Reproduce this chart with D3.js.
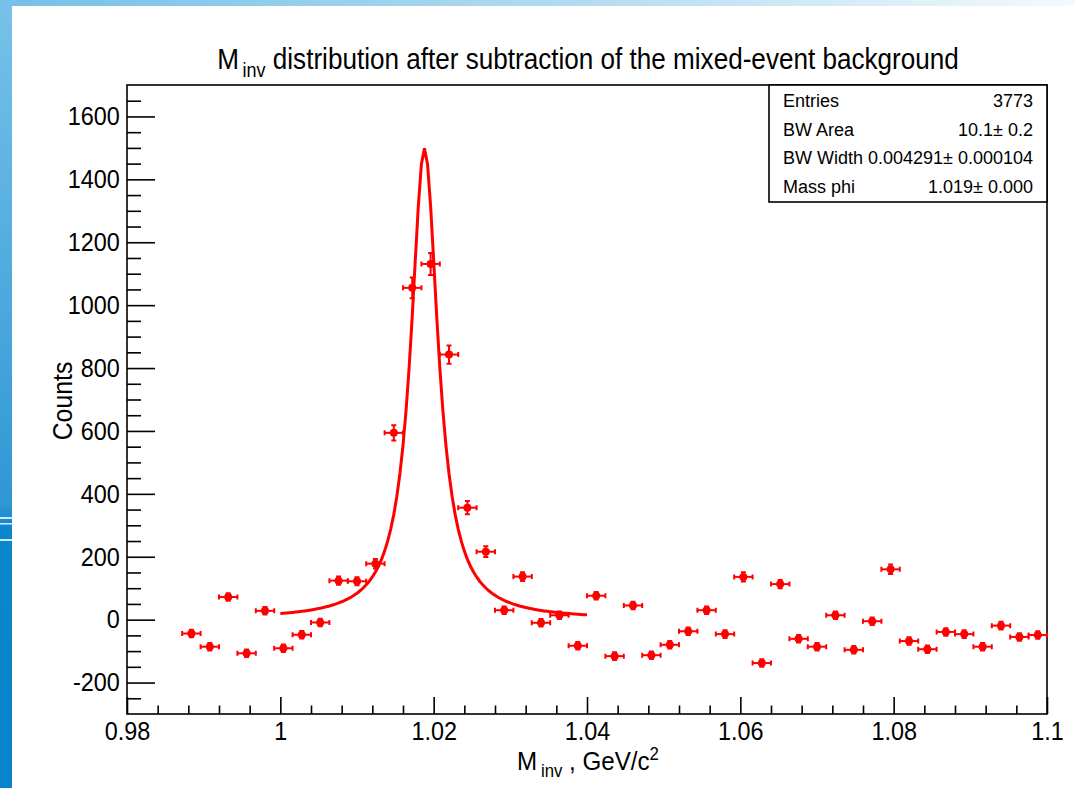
<!DOCTYPE html>
<html>
<head>
<meta charset="utf-8">
<script src="https://cdn.jsdelivr.net/npm/d3@7"></script>
<style>
  body { margin: 0; background: #fff; }
  svg { display: block; font-family: "Liberation Sans", Arial, Helvetica, sans-serif; }
</style>
</head>
<body>
<svg id="chart"></svg>
<script>
// Invariant-mass spectrum after mixed-event background subtraction, with Breit-Wigner fit

// bin centres of the filled bins (bin width 0.0024 GeV/c^2, bins below KK threshold are empty)
const binCenters = [
  0.9884, 0.9908, 0.9932, 0.9956, 0.9980, 1.0004, 1.0028, 1.0052, 1.0076, 1.0100,
  1.0124, 1.0148, 1.0172, 1.0196, 1.0220, 1.0244, 1.0268, 1.0292, 1.0316, 1.0340,
  1.0364, 1.0388, 1.0412, 1.0436, 1.0460, 1.0484, 1.0508, 1.0532, 1.0556, 1.0580,
  1.0604, 1.0628, 1.0652, 1.0676, 1.0700, 1.0724, 1.0748, 1.0772, 1.0796, 1.0820,
  1.0844, 1.0868, 1.0892, 1.0916, 1.0940, 1.0964, 1.0988
];
const counts = [
  -44, -86, 72, -107, 28, -91, -48, -9, 124, 122,
  178, 594, 1055, 1131, 843, 356, 216, 30, 137, -10,
  14, -83, 76, -116, 45, -113, -80, -37, 30, -46,
  136, -138, 113, -61, -86, 14, -96, -5, 160, -68,
  -94, -39, -46, -86, -19, -55, -49
];
const countErrors = [
  12, 12, 12, 12, 12, 12, 12, 12, 13, 13,
  15, 24, 33, 35, 29, 21, 17, 12, 14, 12,
  12, 12, 12, 12, 12, 12, 12, 12, 12, 12,
  15, 12, 13, 12, 12, 12, 12, 12, 15, 12,
  12, 12, 12, 12, 12, 12, 12
];
const halfBinWidth = 0.0012;

// fit parameters (stats box shows mass rounded to 1.019)
const bwArea = 10.1;
const bwWidth = 0.004291;
const bwMass = 1.0188;
const fitRange = [1.0, 1.04];
const fitNpx = 100;

const xMajorTicks = [0.98, 1.0, 1.02, 1.04, 1.06, 1.08, 1.1];
const xTickLabels = ["0.98", "1", "1.02", "1.04", "1.06", "1.08", "1.1"];
const yMajorTicks = [-200, 0, 200, 400, 600, 800, 1000, 1200, 1400, 1600];

const statsLabels = ["Entries", "BW Area", "BW Width", "Mass phi"];
const statsValues = ["3773", "10.1\u00b1 0.2", "0.004291\u00b1 0.000104", "1.019\u00b1 0.000"];

const W = 1075, H = 788;
const frame = { left: 127, right: 1047, top: 85, bottom: 714 };
const red = "#ff0000";

const svg = d3.select("#chart").attr("width", W).attr("height", H);

// slide background: blue strip on the left, fading band on top
const defs = svg.append("defs");
const topGrad = defs.append("linearGradient").attr("id", "topGrad");
topGrad.append("stop").attr("offset", "0%").attr("stop-color", "#74c0e8");
topGrad.append("stop").attr("offset", "55%").attr("stop-color", "#b4dcf1");
topGrad.append("stop").attr("offset", "100%").attr("stop-color", "#f4fafd");
const leftGrad = defs.append("linearGradient").attr("id", "leftGrad")
    .attr("x1", 0).attr("y1", 0).attr("x2", 0).attr("y2", 1);
leftGrad.append("stop").attr("offset", "0%").attr("stop-color", "#78c2ea");
leftGrad.append("stop").attr("offset", "64%").attr("stop-color", "#2f97d4");
leftGrad.append("stop").attr("offset", "67%").attr("stop-color", "#0b86cc");
leftGrad.append("stop").attr("offset", "100%").attr("stop-color", "#0784cc");

svg.append("rect").attr("width", W).attr("height", 6).attr("fill", "url(#topGrad)");
svg.append("rect").attr("width", 12).attr("height", H).attr("fill", "url(#leftGrad)");
[517, 523, 539].forEach((yy, i) => {
  svg.append("rect").attr("x", 0).attr("y", yy).attr("width", 12).attr("height", i === 1 ? 1.5 : 2)
      .attr("fill", "#e8f5fc").attr("opacity", 0.9);
});

const x = d3.scaleLinear().domain([0.98, 1.1]).range([frame.left, frame.right]);
const y = d3.scaleLinear().domain([-300, 1700]).range([frame.bottom, frame.top]);

// frame
svg.append("rect")
    .attr("x", frame.left).attr("y", frame.top)
    .attr("width", frame.right - frame.left).attr("height", frame.bottom - frame.top)
    .attr("fill", "#fff").attr("stroke", "#000").attr("stroke-width", 1.6);

// axes, ticks pointing into the frame
const yMinor = d3.range(-300, 1701, 50).filter(v => v % 200 !== 0 && v > -300 && v < 1700);
const xMinor = d3.range(1, 30).filter(i => i % 5 !== 0).map(i => 0.98 + i * 0.004);

function styleAxis(g) {
  g.select(".domain").remove();
  g.selectAll(".tick line").attr("stroke", "#000").attr("stroke-width", 1.6);
  g.selectAll("text").attr("fill", "#000").attr("font-size", 26)
      .attr("font-family", "'Liberation Sans', Arial, sans-serif")
      .attr("transform", "scale(0.9,1)");
}

svg.append("g").attr("transform", `translate(${frame.left},0)`)
    .call(d3.axisLeft(y).tickValues(yMinor).tickSize(-14).tickFormat(""))
    .call(styleAxis);
svg.append("g").attr("transform", `translate(${frame.left},0)`)
    .call(d3.axisLeft(y).tickValues(yMajorTicks).tickSize(-28).tickPadding(8).tickFormat(d => String(d)))
    .call(styleAxis);

svg.append("g").attr("transform", `translate(0,${frame.bottom})`)
    .call(d3.axisBottom(x).tickValues(xMinor).tickSize(-8.5).tickFormat(""))
    .call(styleAxis);
svg.append("g").attr("transform", `translate(0,${frame.bottom})`)
    .call(d3.axisBottom(x).tickValues(xMajorTicks).tickSize(-17).tickPadding(8)
        .tickFormat((d, i) => xTickLabels[i]))
    .call(styleAxis);

// fit curve
const fitX = d3.range(fitNpx + 1).map(i => fitRange[0] + i * (fitRange[1] - fitRange[0]) / fitNpx);
const breitWigner = m => bwArea * (bwWidth / (2 * Math.PI)) /
    ((m - bwMass) * (m - bwMass) + bwWidth * bwWidth / 4);
const line = d3.line().x(d => x(d)).y(d => y(breitWigner(d)));
svg.append("path")
    .datum(fitX)
    .attr("d", line)
    .attr("fill", "none")
    .attr("stroke", red)
    .attr("stroke-width", 3)
    .attr("stroke-linejoin", "miter");

// data points with error bars
const pts = binCenters.map((c, i) => ({ c, v: counts[i], e: countErrors[i] }));
const cap = 2.5;
const pg = svg.append("g").attr("stroke", red).attr("stroke-width", 2);
const point = pg.selectAll("g.pt").data(pts).enter().append("g").attr("class", "pt");
point.append("line")
    .attr("x1", d => x(d.c - halfBinWidth)).attr("x2", d => x(d.c + halfBinWidth))
    .attr("y1", d => y(d.v)).attr("y2", d => y(d.v));
point.append("line")
    .attr("x1", d => x(d.c)).attr("x2", d => x(d.c))
    .attr("y1", d => y(d.v - d.e)).attr("y2", d => y(d.v + d.e));
point.append("path")
    .attr("d", d => {
      const xl = x(d.c - halfBinWidth), xr = x(d.c + halfBinWidth), xc = x(d.c);
      const yc = y(d.v), yt = y(d.v + d.e), yb = y(d.v - d.e);
      return `M${xl},${yc - cap}V${yc + cap}M${xr},${yc - cap}V${yc + cap}` +
             `M${xc - cap},${yt}H${xc + cap}M${xc - cap},${yb}H${xc + cap}`;
    })
    .attr("fill", "none");
point.append("circle")
    .attr("cx", d => x(d.c)).attr("cy", d => y(d.v)).attr("r", 4)
    .attr("fill", red).attr("stroke", "none");

// text helper: ROOT's helvetica is narrower, so squeeze horizontally
function label(px, py, size, anchor, sx, rot) {
  const g = svg.append("g")
      .attr("transform", `translate(${px},${py})${rot ? ` rotate(${rot})` : ""} scale(${sx},1)`);
  return g.append("text").attr("font-size", size).attr("text-anchor", anchor).attr("fill", "#000");
}

// title
const title = label(588, 69, 29, "middle", 0.9);
title.append("tspan").text("M");
title.append("tspan").attr("font-size", 20).attr("dy", 8).attr("dx", 4).text("inv");
title.append("tspan").attr("dy", -8).text(" distribution after subtraction of the mixed-event background");

// axis titles
const xt = label(588, 770, 26, "middle", 0.93);
xt.append("tspan").text("M");
xt.append("tspan").attr("font-size", 18).attr("dy", 7).attr("dx", 4).text("inv");
xt.append("tspan").attr("dy", -7).text(" , GeV/c");
xt.append("tspan").attr("font-size", 18).attr("dy", -10).text("2");

label(72, 401, 27, "middle", 0.92, -90).text("Counts");

// stats box
svg.append("rect")
    .attr("x", 769).attr("y", frame.top)
    .attr("width", frame.right - 769).attr("height", 202 - frame.top)
    .attr("fill", "#fff").attr("stroke", "#000").attr("stroke-width", 1.6);
statsLabels.forEach((s, i) => {
  const rowY = 107 + i * 28.7;
  label(783, rowY, 18, "start", 1).text(s);
  label(1033, rowY, 18, "end", 1).text(statsValues[i]);
});
</script>
</body>
</html>
